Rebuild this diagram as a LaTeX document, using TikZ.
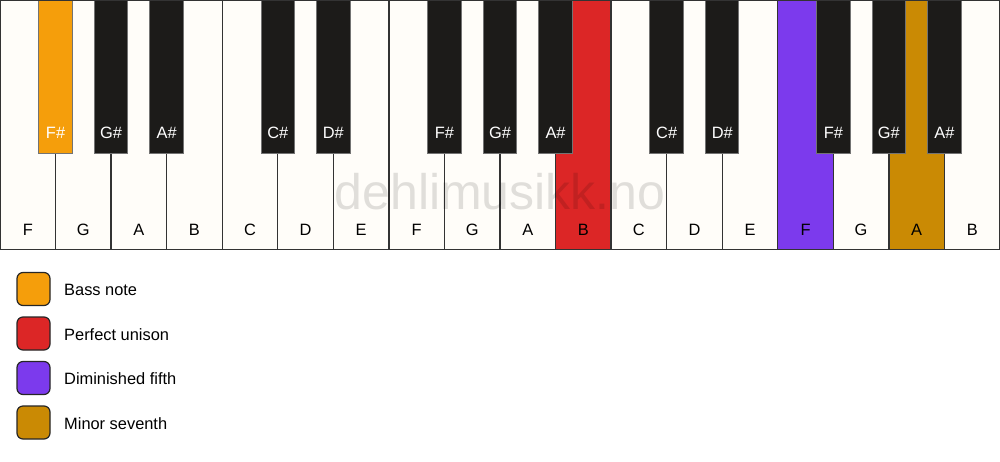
\documentclass[tikz,border=0pt]{standalone}
\usepackage{fontspec}
\setmainfont{Liberation Sans}
\begin{document}
\begin{tikzpicture}[x=1pt,y=-1pt,
  whitekey/.style={draw=black!80,line width=1.3pt,fill=keywhite},
  blackkey/.style={draw=black!55,line width=1pt,fill=keyblack},
  wlabel/.style={font=\fontsize{16.4}{18}\selectfont,text=black},
  blabel/.style={font=\fontsize{16.4}{18}\selectfont,text=white},
  legbox/.style={draw=black!85,line width=1.2pt,rounded corners=6pt,minimum width=33pt,minimum height=33pt,inner sep=0pt},
  legtext/.style={font=\fontsize{16.4}{18}\selectfont,anchor=west,inner sep=0pt}]
\definecolor{keywhite}{HTML}{FFFDF9}
\definecolor{keyblack}{HTML}{1C1B19}
\definecolor{cbass}{HTML}{F59E0B}
\definecolor{cunison}{HTML}{DC2626}
\definecolor{cfifth}{HTML}{7C3AED}
\definecolor{cseventh}{HTML}{CA8A04}
\useasboundingbox (0,0) rectangle (1000,461);
\fill[white] (0,0) rectangle (1000,461);
% white keys
\def\ww{55.5556}
\foreach \n/\i/\c in {F/0/keywhite,G/1/keywhite,A/2/keywhite,B/3/keywhite,C/4/keywhite,D/5/keywhite,E/6/keywhite,F/7/keywhite,G/8/keywhite,A/9/keywhite,B/10/cunison,C/11/keywhite,D/12/keywhite,E/13/keywhite,F/14/cfifth,G/15/keywhite,A/16/cseventh,B/17/keywhite}{
  \path[whitekey,fill=\c] ({\i*\ww},0.5) rectangle ({(\i+1)*\ww},249.5);
  \node[wlabel] (w\i) at ({(\i+0.5)*\ww},230) {\n};
}
% black keys
\foreach \n/\i/\c in {F\#/1/cbass,G\#/2/keyblack,A\#/3/keyblack,C\#/5/keyblack,D\#/6/keyblack,F\#/8/keyblack,G\#/9/keyblack,A\#/10/keyblack,C\#/12/keyblack,D\#/13/keyblack,F\#/15/keyblack,G\#/16/keyblack,A\#/17/keyblack}{
  \path[blackkey,fill=\c] ({\i*\ww-16.7},0) rectangle ({\i*\ww+16.7},153);
  \node[blabel] (b\i) at ({\i*\ww},133) {\n};
}
\draw[draw=black!80,line width=1.3pt] (0,0.5) rectangle (999.5,249.5);
% watermark
\node[font=\fontsize{50}{56}\selectfont,text=black,opacity=0.12,text opacity=0.12] (wm) at (500,192) {dehlimusikk.no};
% legend
\node[legbox,fill=cbass] (l1) at (33.5,289) {};
\node[legtext] (t1) at (64,290) {Bass note};
\node[legbox,fill=cunison] (l2) at (33.5,333.5) {};
\node[legtext] (t2) at (64,334.5) {Perfect unison};
\node[legbox,fill=cfifth] (l3) at (33.5,378) {};
\node[legtext] (t3) at (64,379) {Diminished fifth};
\node[legbox,fill=cseventh] (l4) at (33.5,422.5) {};
\node[legtext] (t4) at (64,423.5) {Minor seventh};
\end{tikzpicture}
\end{document}
